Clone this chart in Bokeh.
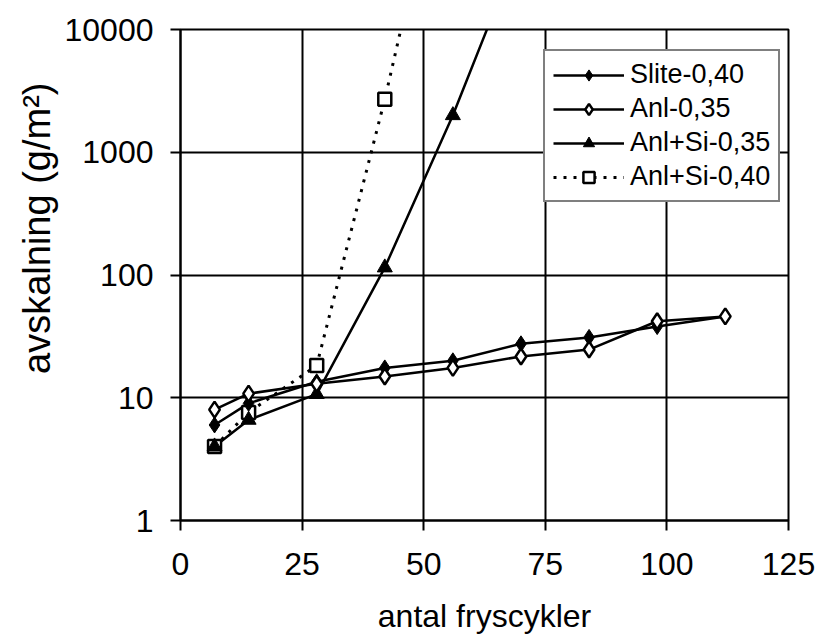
from bokeh.plotting import figure
from bokeh.models import Legend, LegendItem, FixedTicker, NumeralTickFormatter, Range1d, Title
from bokeh.embed import file_html
from bokeh.resources import INLINE

# ---- data ----
cycles = [7, 14, 28, 42, 56, 70, 84, 98, 112]
slite_040 = [6.0, 9.0, 13.5, 17.5, 20.0, 27.5, 31.0, 38.0, 46.0]
anl_035 = [8.0, 10.8, 13.0, 14.9, 17.5, 21.7, 24.7, 42.0, 46.0]
anlsi_035_x = [7, 14, 28, 42, 56, 70]
anlsi_035 = [4.0, 6.6, 10.7, 115.0, 2000.0, 50000.0]
anlsi_040_x = [7, 14, 28, 42, 56]
anlsi_040 = [4.0, 7.6, 18.3, 2700.0, 700000.0]

x_ticks = [0, 25, 50, 75, 100, 125]
y_ticks = [1, 10, 100, 1000, 10000]

FONT = "Liberation Sans"

p = figure(width=818, height=636,
           x_range=Range1d(0, 125), y_range=Range1d(1, 10000),
           y_axis_type="log", output_backend="svg", toolbar_location=None,
           min_border_left=180, min_border_right=30, min_border_top=29,
           min_border_bottom=116, title=None)

p.background_fill_color = "white"
p.border_fill_color = "white"
p.outline_line_color = "black"
p.outline_line_width = 2

p.xaxis.ticker = FixedTicker(ticks=x_ticks)
p.yaxis.ticker = FixedTicker(ticks=y_ticks)
p.yaxis.formatter = NumeralTickFormatter(format="0")

for ax in (p.xaxis, p.yaxis):
    ax.major_label_text_font = FONT
    ax.major_label_text_font_size = "32px"
    ax.major_label_text_color = "black"
    ax.axis_label_text_font = FONT
    ax.axis_label_text_font_style = "normal"
    ax.axis_label_text_color = "black"
    ax.axis_line_color = "black"
    ax.axis_line_width = 2
    ax.major_tick_line_color = "black"
    ax.major_tick_line_width = 2
    ax.major_tick_out = 10
    ax.major_tick_in = 0
    ax.minor_tick_line_color = None

p.yaxis.major_label_standoff = 17
p.xaxis.major_label_standoff = 22

p.xaxis.axis_label = "antal fryscykler"
p.xaxis.axis_label_text_font_size = "32px"
p.xaxis.axis_label_standoff = 20

ytitle = Title(text="avskalning (g/m²)", align="right", offset=53,
               text_font=FONT, text_font_size="38px", text_font_style="normal",
               text_color="black", standoff=8)
p.add_layout(ytitle, "left")

for g in (p.xgrid, p.ygrid):
    g.grid_line_color = "black"
    g.grid_line_width = 2
    g.grid_line_alpha = 1.0

LW = 2.5
# lines
l1 = p.line(cycles, slite_040, line_color="black", line_width=LW)
l2 = p.line(cycles, anl_035, line_color="black", line_width=LW)
l3 = p.line(anlsi_035_x, anlsi_035, line_color="black", line_width=LW)
l4 = p.line(anlsi_040_x, anlsi_040, line_color="black", line_width=3,
            line_dash="3 7")

# markers
m4 = p.scatter(anlsi_040_x, anlsi_040, marker="square", size=13,
               fill_color="white", line_color="black", line_width=2.5)
m3 = p.scatter(anlsi_035_x, anlsi_035, marker="triangle", size=15,
               fill_color="black", line_color="black", line_width=1)
m1 = p.scatter(cycles, slite_040, marker="diamond", size=16,
               fill_color="black", line_color="black", line_width=1)
m2 = p.scatter(cycles, anl_035, marker="diamond", size=16,
               fill_color="white", line_color="black", line_width=2.5)

legend = Legend(items=[
    LegendItem(label="Slite-0,40", renderers=[l1, m1]),
    LegendItem(label="Anl-0,35", renderers=[l2, m2]),
    LegendItem(label="Anl+Si-0,35", renderers=[l3, m3]),
    LegendItem(label="Anl+Si-0,40", renderers=[l4, m4]),
], location=(363, 318))
legend.border_line_color = "black"
legend.border_line_width = 2
legend.background_fill_color = "white"
legend.background_fill_alpha = 1.0
legend.label_text_font = FONT
legend.label_text_font_size = "27px"
legend.label_text_color = "black"
legend.glyph_width = 71
legend.glyph_height = 28
legend.label_height = 28
legend.spacing = 3
legend.padding = 8
legend.margin = 0
legend.label_standoff = 6
p.add_layout(legend)

open("out.html", "w").write(file_html(p, INLINE))
